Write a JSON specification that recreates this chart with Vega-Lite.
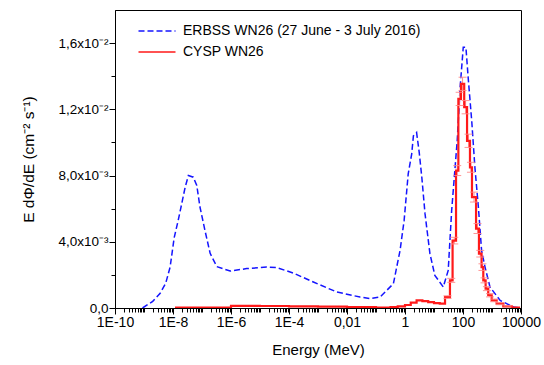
{
  "$schema": "https://vega.github.io/schema/vega-lite/v6.json",
  "width": 406,
  "height": 298,
  "autosize": {"type": "none"},
  "padding": {"left": 115, "top": 10, "right": 23, "bottom": 57},
  "background": "white",
  "config": {
    "font": "Liberation Sans",
    "view": {"stroke": "black", "strokeWidth": 1},
    "axis": {"grid": false, "domainColor": "black", "tickColor": "black", "labelColor": "black", "titleColor": "black", "labelFont": "Liberation Sans", "titleFont": "Liberation Sans", "labelFontSize": 14, "titleFontSize": 15, "titleFontWeight": "normal"},
    "legend": {"labelFont": "Liberation Sans", "labelFontSize": 14, "labelColor": "black", "labelLimit": 0}
  },
  "datasets": {
    "erbss": [
      {"E": 8.91e-10, "v": 0}, {"E": 2.0e-9, "v": 0.0004}, {"E": 3.55e-9, "v": 0.00087}, {"E": 5.62e-9, "v": 0.0015},
      {"E": 7.94e-9, "v": 0.00247}, {"E": 1.10e-8, "v": 0.00425}, {"E": 1.51e-8, "v": 0.00529}, {"E": 2.0e-8, "v": 0.0063},
      {"E": 2.63e-8, "v": 0.0073}, {"E": 3.39e-8, "v": 0.0080}, {"E": 5.01e-8, "v": 0.0079}, {"E": 6.61e-8, "v": 0.0074},
      {"E": 8.51e-8, "v": 0.0061}, {"E": 1.26e-7, "v": 0.0047}, {"E": 1.91e-7, "v": 0.0033}, {"E": 3.24e-7, "v": 0.0025},
      {"E": 9.33e-7, "v": 0.00223}, {"E": 3.47e-6, "v": 0.00238}, {"E": 1.70e-5, "v": 0.00247}, {"E": 3.80e-5, "v": 0.00244},
      {"E": 1.41e-4, "v": 0.00211}, {"E": 6.92e-4, "v": 0.00157}, {"E": 4.37e-3, "v": 0.00097}, {"E": 2.82e-2, "v": 0.00066},
      {"E": 6.17e-2, "v": 0.00057}, {"E": 0.138, "v": 0.00066}, {"E": 0.398, "v": 0.00147}, {"E": 0.676, "v": 0.00348},
      {"E": 0.933, "v": 0.00529}, {"E": 1.29, "v": 0.0081}, {"E": 1.70, "v": 0.0093}, {"E": 1.95, "v": 0.0104},
      {"E": 2.51, "v": 0.0106}, {"E": 3.09, "v": 0.0094}, {"E": 3.80, "v": 0.0079}, {"E": 4.90, "v": 0.0057},
      {"E": 7.24, "v": 0.00328}, {"E": 10.7, "v": 0.00197}, {"E": 20.9, "v": 0.00127}, {"E": 30.9, "v": 0.00227},
      {"E": 40.7, "v": 0.0059}, {"E": 63.1, "v": 0.0101}, {"E": 79.4, "v": 0.0133}, {"E": 102, "v": 0.01575},
      {"E": 126, "v": 0.01575}, {"E": 151, "v": 0.0139}, {"E": 200, "v": 0.0113}, {"E": 257, "v": 0.0085},
      {"E": 339, "v": 0.0061}, {"E": 437, "v": 0.00348}, {"E": 575, "v": 0.00247}, {"E": 851, "v": 0.00127},
      {"E": 1905, "v": 0.00046}, {"E": 5495, "v": 0.00006}, {"E": 10000, "v": 0}
    ],
    "cysp": [
      {"E": 1.17e-8, "v": 0.00002}, {"E": 1e-6, "v": 0.00013}, {"E": 1e-5, "v": 0.00012}, {"E": 1e-4, "v": 0.00010},
      {"E": 1e-3, "v": 0.00008}, {"E": 0.01, "v": 0.00005}, {"E": 0.1, "v": 0.00003}, {"E": 0.316, "v": 0.00005},
      {"E": 0.562, "v": 0.0001}, {"E": 1, "v": 0.00018}, {"E": 1.58, "v": 0.00032}, {"E": 2.51, "v": 0.00046},
      {"E": 3.98, "v": 0.00042}, {"E": 6.31, "v": 0.00036}, {"E": 10, "v": 0.00030}, {"E": 15.8, "v": 0.00026},
      {"E": 24.0, "v": 0.00066}, {"E": 35.5, "v": 0.00167}, {"E": 43.7, "v": 0.00407}, {"E": 57.5, "v": 0.0083},
      {"E": 69.2, "v": 0.01263}, {"E": 85.1, "v": 0.01354}, {"E": 110, "v": 0.01213}, {"E": 138, "v": 0.0101},
      {"E": 174, "v": 0.0085}, {"E": 204, "v": 0.0067}, {"E": 282, "v": 0.0048}, {"E": 355, "v": 0.00328},
      {"E": 437, "v": 0.00247}, {"E": 501, "v": 0.00167}, {"E": 603, "v": 0.00117}, {"E": 741, "v": 0.00077},
      {"E": 977, "v": 0.00046}, {"E": 1445, "v": 0.00026}, {"E": 2455, "v": 0.0001}, {"E": 4786, "v": 0.00003},
      {"E": 9333, "v": 0.00003}
    ],
    "cysp_err": [
      {"E": 29.2, "lo": 0.00058, "hi": 0.00074}, {"E": 39.4, "lo": 0.00155, "hi": 0.00179}, {"E": 50.1, "lo": 0.00387, "hi": 0.00427},
      {"E": 63.1, "lo": 0.0080, "hi": 0.0086}, {"E": 76.7, "lo": 0.01223, "hi": 0.01303}, {"E": 96.6, "lo": 0.01314, "hi": 0.01394},
      {"E": 123, "lo": 0.01173, "hi": 0.01253}, {"E": 155, "lo": 0.0097, "hi": 0.0105}, {"E": 188, "lo": 0.0082, "hi": 0.0088},
      {"E": 240, "lo": 0.0064, "hi": 0.0070}, {"E": 316, "lo": 0.0045, "hi": 0.0051}, {"E": 394, "lo": 0.00308, "hi": 0.00348},
      {"E": 468, "lo": 0.00227, "hi": 0.00267}, {"E": 550, "lo": 0.00152, "hi": 0.00182}, {"E": 668, "lo": 0.00105, "hi": 0.00129},
      {"E": 851, "lo": 0.00067, "hi": 0.00087}, {"E": 1189, "lo": 0.00038, "hi": 0.00054}, {"E": 1884, "lo": 0.0002, "hi": 0.00032},
      {"E": 3428, "lo": 0.00006, "hi": 0.00014}
    ]
  },
  "layer": [
    {
      "data": {"name": "erbss"},
      "mark": {"type": "line", "strokeWidth": 1.5, "clip": true},
      "encoding": {
        "x": {"field": "E", "type": "quantitative", "scale": {"type": "log", "domain": [1e-10, 10000], "nice": false},
          "axis": {"orient": "bottom", "title": "Energy (MeV)", "values": [1e-10, 1e-8, 1e-6, 1e-4, 0.01, 1, 100, 10000],
            "labelExpr": "datum.value > 0.005 && datum.value < 0.05 ? '0,01' : datum.value >= 1 ? format(datum.value, 'd') : '1E' + round(log(datum.value)/LN10)",
            "tickSize": 6, "labelPadding": 1, "titlePadding": 13, "labelFlush": false, "labelOverlap": false}},
        "y": {"field": "v", "type": "quantitative", "scale": {"domain": [0, 0.018], "nice": false},
          "axis": {"orient": "left", "title": "E dΦ/dE (cm⁻² s⁻¹)", "values": [0, 0.004, 0.008, 0.012, 0.016],
            "labelExpr": "round(datum.value*1000) == 0 ? '0,0' : round(datum.value*1000) == 4 ? '4,0x10⁻³' : round(datum.value*1000) == 8 ? '8,0x10⁻³' : round(datum.value*1000) == 12 ? '1,2x10⁻²' : '1,6x10⁻²'",
            "tickSize": 6, "labelPadding": 1, "labelFontSize": 13.5, "titlePadding": 21, "titleFontSize": 15.5}},
        "color": {"datum": "ERBSS WN26 (27 June - 3 July 2016)", "type": "nominal",
          "scale": {"domain": ["ERBSS WN26 (27 June - 3 July 2016)", "CYSP WN26"], "range": ["#1414ff", "#ff1a1a"]},
          "legend": {"title": null, "orient": "none", "legendX": 31, "legendY": 10, "symbolType": "M-1.85,0H1.85", "symbolSize": 400, "symbolStrokeWidth": 1.5, "rowPadding": 3, "labelOffset": 15}},
        "strokeDash": {"datum": "ERBSS WN26 (27 June - 3 July 2016)", "type": "nominal",
          "scale": {"domain": ["ERBSS WN26 (27 June - 3 July 2016)", "CYSP WN26"], "range": [[6, 3], [1, 0]]},
          "legend": {"title": null, "orient": "none", "legendX": 31, "legendY": 10, "symbolType": "M-1.85,0H1.85", "symbolSize": 400, "symbolStrokeWidth": 1.5, "rowPadding": 3, "labelOffset": 15}}
      }
    },
    {
      "data": {"name": "cysp_err"},
      "mark": {"type": "rule", "color": "#ff8a8a", "strokeWidth": 1, "clip": true},
      "encoding": {
        "x": {"field": "E", "type": "quantitative", "axis": null},
        "y": {"field": "lo", "type": "quantitative", "axis": null},
        "y2": {"field": "hi"}
      }
    },
    {
      "data": {"name": "cysp"},
      "mark": {"type": "line", "interpolate": "step-after", "strokeWidth": 2.2, "clip": true},
      "encoding": {
        "x": {"field": "E", "type": "quantitative", "axis": null},
        "y": {"field": "v", "type": "quantitative", "axis": null},
        "color": {"datum": "CYSP WN26", "type": "nominal"},
        "strokeDash": {"datum": "CYSP WN26", "type": "nominal"}
      }
    },
    {
      "data": {"name": "cysp_err"},
      "mark": {"type": "tick", "orient": "horizontal", "color": "#ff8a8a", "size": 8, "thickness": 1, "opacity": 0.9, "clip": true},
      "encoding": {
        "x": {"field": "E", "type": "quantitative", "axis": null},
        "y": {"field": "lo", "type": "quantitative", "axis": null}
      }
    },
    {
      "data": {"name": "cysp_err"},
      "mark": {"type": "tick", "orient": "horizontal", "color": "#ff8a8a", "size": 8, "thickness": 1, "opacity": 0.9, "clip": true},
      "encoding": {
        "x": {"field": "E", "type": "quantitative", "axis": null},
        "y": {"field": "hi", "type": "quantitative", "axis": null}
      }
    },
    {
      "data": {"name": "erbss"},
      "mark": {"type": "line", "opacity": 0},
      "encoding": {
        "x": {"field": "E", "type": "quantitative",
          "axis": {"orient": "bottom", "title": null, "labels": false, "domain": false, "tickSize": 4,
            "values": [2e-10,3e-10,4e-10,5e-10,6e-10,7e-10,8e-10,9e-10,1e-9,2e-9,3e-9,4e-9,5e-9,6e-9,7e-9,8e-9,9e-9,
              2e-8,3e-8,4e-8,5e-8,6e-8,7e-8,8e-8,9e-8,1e-7,2e-7,3e-7,4e-7,5e-7,6e-7,7e-7,8e-7,9e-7,
              2e-6,3e-6,4e-6,5e-6,6e-6,7e-6,8e-6,9e-6,1e-5,2e-5,3e-5,4e-5,5e-5,6e-5,7e-5,8e-5,9e-5,
              2e-4,3e-4,4e-4,5e-4,6e-4,7e-4,8e-4,9e-4,1e-3,2e-3,3e-3,4e-3,5e-3,6e-3,7e-3,8e-3,9e-3,
              0.02,0.03,0.04,0.05,0.06,0.07,0.08,0.09,0.1,0.2,0.3,0.4,0.5,0.6,0.7,0.8,0.9,
              2,3,4,5,6,7,8,9,10,20,30,40,50,60,70,80,90,
              200,300,400,500,600,700,800,900,1000,2000,3000,4000,5000,6000,7000,8000,9000]}},
        "y": {"field": "v", "type": "quantitative",
          "axis": {"orient": "left", "title": null, "labels": false, "domain": false, "tickSize": 4,
            "values": [0.002, 0.006, 0.010, 0.014]}}
      }
    }
  ],
  "resolve": {"axis": {"x": "independent", "y": "independent"}}
}
